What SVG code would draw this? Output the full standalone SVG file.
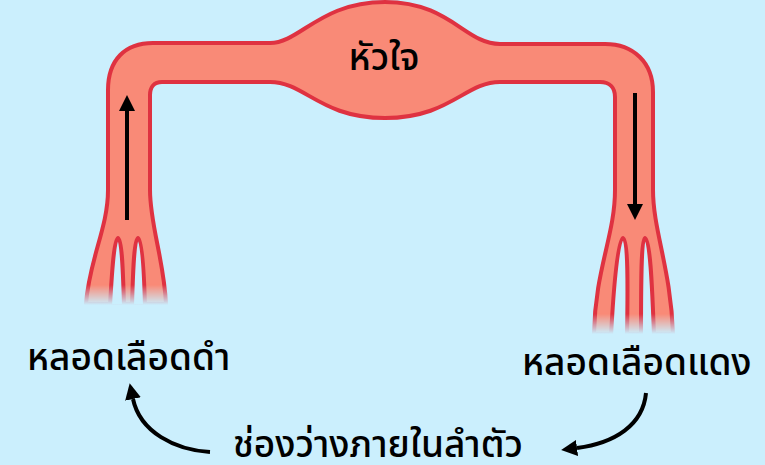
<svg xmlns="http://www.w3.org/2000/svg" width="765" height="465" viewBox="0 0 765 465">
  <style>
    .vessel { fill: #F98A77; stroke: #DF3241; stroke-width: 4; stroke-linejoin: round; }
    .gap { fill: #CBEFFD; stroke: #DF3241; stroke-width: 4; stroke-linejoin: round; }
    .flow { fill: none; stroke: #000; stroke-width: 4; }
    .label { font-family: 'Noto Sans Thai', 'Noto Sans', 'DejaVu Sans', sans-serif; font-size: 37px; font-weight: 500; fill: #000; }
  </style>
  <defs>
    <marker id="head" viewBox="0 0 16 16" refX="0" refY="8" markerWidth="16" markerHeight="16" markerUnits="userSpaceOnUse" orient="auto">
      <path d="M0,0 L16,8 L0,16 Z" fill="#000"/>
    </marker>
    <linearGradient id="fadeV" x1="0" y1="0" x2="0" y2="1">
      <stop offset="0" stop-color="#fff"/>
      <stop offset="1" stop-color="#000"/>
    </linearGradient>
    <mask id="tipFade" maskUnits="userSpaceOnUse" x="0" y="0" width="765" height="465">
      <rect x="0" y="0" width="765" height="285" fill="#fff"/>
      <rect x="0" y="285" width="300" height="20" fill="url(#fadeV)"/>
      <rect x="300" y="285" width="465" height="30" fill="#fff"/>
      <rect x="300" y="314" width="465" height="20" fill="url(#fadeV)"/>
    </mask>
  </defs>

  <rect width="765" height="465" fill="#CBEFFD"/>

  <!-- circulation loop: vein, heart, artery -->
  <g id="vessels" mask="url(#tipFade)">
    <path class="vessel" d="M86,304 C89,260 108,228 108,190 L108,90 C108,60 125,43 153,43 L270,43 C300,43 320,2 385,2 C450,2 465,44 500,44 L605,44 C633,44 653,62 653,92 L653,190 C653,230 671,270 673,334 L594,334 C595,270 615,235 615,190 L615,97 C615,88 610,82 600,82 L500,82 C465,82 450,118 385,118 C320,118 305,82 270,82 L162,82 C154,82 150,87 150,95 L150,190 C150,225 164,260 166,304 Z"/>
    <path class="gap" d="M110,306 C112,270 114,240 118,238 C122,240 123,270 124,306 Z"/>
    <path class="gap" d="M132,306 C133,270 134,240 138,238 C142,240 144,270 145,306 Z"/>
    <path class="gap" d="M611,336 C614,280 618,240 623,238 C628,240 628,280 627,336 Z"/>
    <path class="gap" d="M641,336 C641,280 641,240 645,238 C650,240 652,280 654,336 Z"/>
  </g>

  <g id="heart">
    <text class="label" x="384" y="70" text-anchor="middle" font-weight="600" font-size="36">หัวใจ</text>
  </g>

  <g id="vein-label">
    <text class="label" x="27" y="370">หลอดเลือดดำ</text>
  </g>

  <g id="artery-label">
    <text class="label" x="522" y="375" font-size="36">หลอดเลือดแดง</text>
  </g>

  <g id="body-cavity">
    <text class="label" x="233" y="457" font-size="38">ช่องว่างภายในลำตัว</text>
  </g>

  <g id="connectors">
    <line class="flow" x1="127" y1="220" x2="127" y2="111" marker-end="url(#head)"/>
    <line class="flow" x1="635" y1="93" x2="635" y2="204" marker-end="url(#head)"/>
    <path class="flow" d="M210,452 C175,450 140,432 133,399" marker-end="url(#head)"/>
    <path class="flow" d="M646,393 C643,425 615,443 577,448" marker-end="url(#head)"/>
  </g>
</svg>
